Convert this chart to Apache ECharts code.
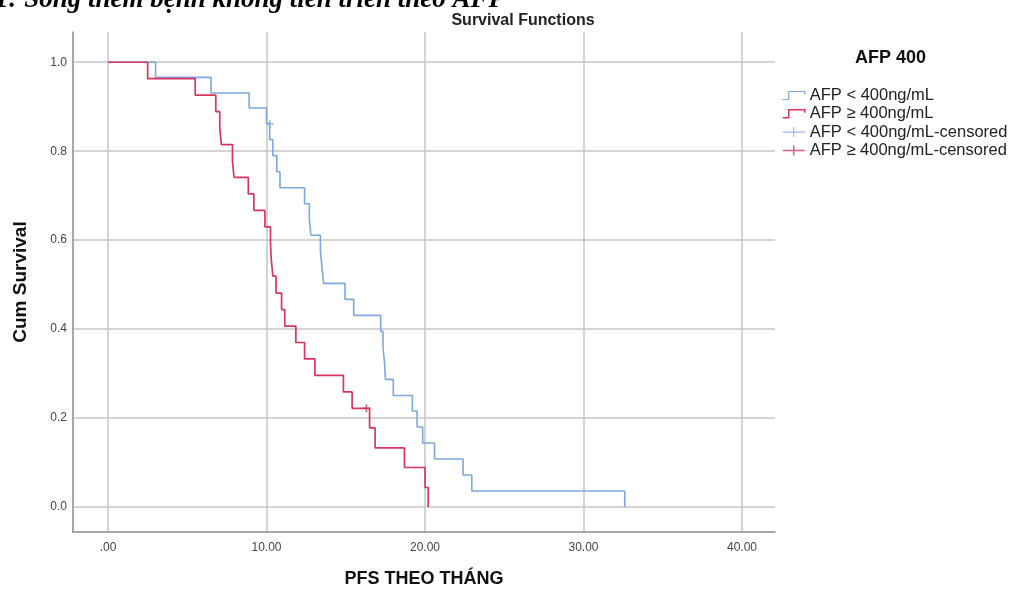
<!DOCTYPE html>
<html><head><meta charset="utf-8">
<script src="https://cdn.jsdelivr.net/npm/echarts@6/dist/echarts.min.js"></script>
<style>html,body{margin:0;padding:0;background:#fff;overflow:hidden}#c{width:1011px;height:593px}</style>
</head><body><div id="c"></div>
<script>
// AFP < 400ng/mL (Kaplan-Meier step values)
const lowTimes = [0, 3.0, 6.5, 8.9, 10.0, 10.2, 10.4, 10.65, 10.85, 12.4, 12.7, 12.8, 13.4, 13.5, 13.6, 14.95, 15.5, 17.2, 17.35, 17.45, 17.5, 18.0, 19.2, 19.5, 19.85, 20.6, 22.4, 22.95, 32.6];
const lowSurv  = [1.0, 0.966, 0.931, 0.897, 0.862, 0.826, 0.790, 0.754, 0.718, 0.682, 0.647, 0.611, 0.575, 0.539, 0.503, 0.467, 0.431, 0.395, 0.359, 0.323, 0.287, 0.251, 0.216, 0.180, 0.144, 0.108, 0.072, 0.036, 0.0];
// AFP >= 400ng/mL
const highTimes = [0, 2.5, 5.5, 6.8, 7.05, 7.15, 7.85, 7.95, 8.85, 9.2, 9.9, 10.25, 10.3, 10.4, 10.6, 10.95, 11.15, 11.85, 12.4, 13.05, 14.85, 15.4, 16.5, 16.85, 18.7, 20.0, 20.2];
const highSurv  = [1.0, 0.963, 0.926, 0.889, 0.852, 0.815, 0.778, 0.741, 0.704, 0.667, 0.630, 0.593, 0.556, 0.519, 0.481, 0.444, 0.407, 0.370, 0.333, 0.296, 0.259, 0.222, 0.178, 0.133, 0.089, 0.044, 0.0];
// censored observations
const lowCensorTimes = [10.2];
const lowCensorSurv = [0.862];
const highCensorTimes = [16.3];
const highCensorSurv = [0.222];

const xTicks = [0, 10, 20, 30, 40];
const yTicks = [0, 0.2, 0.4, 0.6, 0.8, 1.0];
const seriesNames = ['AFP < 400ng/mL', 'AFP \u2265 400ng/mL', 'AFP < 400ng/mL-censored', 'AFP \u2265 400ng/mL-censored'];

const BLUE = '#7ea7de';
const RED = '#d8365e';
const zip = (a, b) => a.map((v, i) => [v, b[i]]);
const FONT = "'Liberation Sans', Arial, sans-serif";
const plusPath = 'path://M0,5L10,5M5,0L5,10';
const stepIcon = 'path://M0,9L6,9L6,1L22,1L22,4';
const plusIcon = 'path://M0,5L22,5M11,0L11,10';

const chart = echarts.init(document.getElementById('c'), null, {renderer: 'canvas', width: 1011, height: 593});
chart.setOption({
  animation: false,
  backgroundColor: '#fff',
  title: [
    {text: 'Survival Functions', left: 523, top: 13, padding: 0, textAlign: 'center',
     textStyle: {fontFamily: FONT, fontWeight: 'bold', fontSize: 16, color: '#222'}},
    {text: 'AFP 400', left: 855, top: 49, padding: 0,
     textStyle: {fontFamily: FONT, fontWeight: 'bold', fontSize: 18, color: '#111'}}
  ],
  graphic: [{
    type: 'text', left: -5, top: -13,
    style: {text: '1: S\u1ed1ng th\u00eam b\u1ec7nh kh\u00f4ng ti\u1ebfn tri\u1ec3n theo AFP',
            font: "italic bold 27px 'Liberation Serif', 'DejaVu Serif', serif", fill: '#000'}
  }],
  legend: {
    orient: 'vertical', left: 782, top: 87, padding: 0, itemWidth: 22, itemHeight: 10, itemGap: 1.3,
    textStyle: {fontFamily: FONT, fontSize: 16.5, color: '#222', lineHeight: 17},
    data: [
      {name: seriesNames[0], icon: stepIcon, itemStyle: {color: 'transparent', borderColor: BLUE, borderWidth: 1.2}},
      {name: seriesNames[1], icon: stepIcon, itemStyle: {color: 'transparent', borderColor: RED, borderWidth: 1.5}},
      {name: seriesNames[2], icon: plusIcon, itemStyle: {color: 'transparent', borderColor: BLUE, borderWidth: 1.2}},
      {name: seriesNames[3], icon: plusIcon, itemStyle: {color: 'transparent', borderColor: RED, borderWidth: 1.5}}
    ]
  },
  grid: {left: 73, top: 32, width: 702, height: 506, containLabel: false},
  xAxis: {
    type: 'value', min: -2.21, max: 42.08,
    name: 'PFS THEO TH\u00c1NG', nameLocation: 'middle', nameGap: 38,
    nameTextStyle: {fontFamily: FONT, fontWeight: 'bold', fontSize: 18, color: '#111'},
    axisLine: {show: true, onZero: false, lineStyle: {color: '#8a8a8a', width: 1.5}},
    axisTick: {show: false, customValues: xTicks},
    axisLabel: {customValues: xTicks, margin: 10, fontFamily: FONT, fontSize: 12, color: '#444',
      formatter: v => v === 0 ? '.00' : v.toFixed(2)},
    splitLine: {show: true, lineStyle: {color: '#c6c6c6', width: 1.5}}
  },
  yAxis: {
    type: 'value', min: -0.056, max: 1.068,
    name: 'Cum Survival', nameLocation: 'middle', nameGap: 43,
    nameTextStyle: {fontFamily: FONT, fontWeight: 'bold', fontSize: 19, color: '#111'},
    axisLine: {show: true, onZero: false, lineStyle: {color: '#8a8a8a', width: 1.5}},
    axisTick: {show: false, customValues: yTicks},
    axisLabel: {customValues: yTicks, margin: 6, fontFamily: FONT, fontSize: 12, color: '#444',
      formatter: v => v.toFixed(1)},
    splitLine: {show: true, lineStyle: {color: '#c6c6c6', width: 1.5}}
  },
  series: [
    {name: seriesNames[0], type: 'line', step: 'end', showSymbol: false, symbol: 'none',
     data: zip(lowTimes, lowSurv), lineStyle: {color: BLUE, width: 1.6}, itemStyle: {color: BLUE}, z: 3},
    {name: seriesNames[1], type: 'line', step: 'end', showSymbol: false, symbol: 'none',
     data: zip(highTimes, highSurv), lineStyle: {color: RED, width: 1.7}, itemStyle: {color: RED}, z: 4},
    {name: seriesNames[2], type: 'scatter', symbol: plusPath, symbolSize: 8,
     data: zip(lowCensorTimes, lowCensorSurv), itemStyle: {color: 'transparent', borderColor: BLUE, borderWidth: 1.5}, z: 5},
    {name: seriesNames[3], type: 'scatter', symbol: plusPath, symbolSize: 8,
     data: zip(highCensorTimes, highCensorSurv), itemStyle: {color: 'transparent', borderColor: RED, borderWidth: 1.5}, z: 5}
  ]
});
</script>
</body></html>
